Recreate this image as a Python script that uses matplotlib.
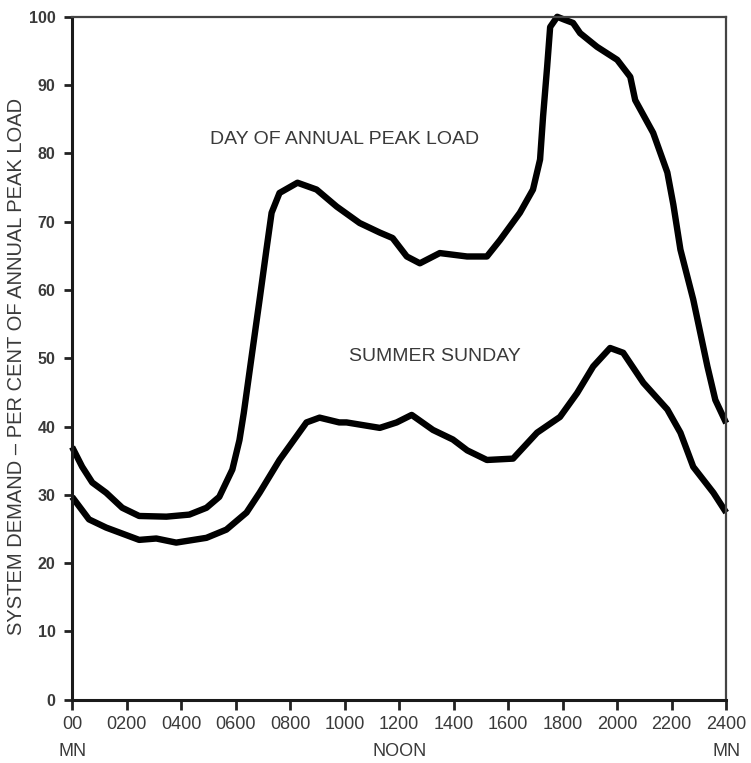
#!/usr/bin/env python3
"""
Daily system demand: day of annual peak load vs. summer Sunday.
"""

import matplotlib
matplotlib.use('Agg')
import matplotlib.pyplot as plt

plt.rcParams['font.family'] = ['Liberation Sans', 'DejaVu Sans']

# hour of day and demand (per cent of annual peak load)
peak_hours = [0.0, 0.37, 0.74, 1.25, 1.84, 2.46, 3.46, 4.3, 4.93, 5.4, 5.88,
              6.14, 6.3, 6.62, 6.88, 7.13, 7.32, 7.61, 8.27, 8.97, 9.71,
              10.55, 11.29, 11.76, 12.28, 12.76, 13.49, 14.49, 15.22, 15.7,
              16.43, 16.91, 17.17, 17.28, 17.43, 17.54, 17.8, 18.05, 18.38,
              18.64, 19.26, 20.0, 20.48, 20.66, 21.32, 21.84, 22.06, 22.32,
              22.79, 23.31, 23.6, 24.0]
peak_load = [37.0, 34.1, 31.8, 30.3, 28.1, 26.9, 26.8, 27.1, 28.1, 29.7, 33.7,
             38.0, 42.0, 51.2, 58.6, 65.9, 71.3, 74.2, 75.7, 74.7, 72.2,
             69.8, 68.4, 67.6, 64.9, 63.9, 65.4, 64.9, 64.9, 67.3,
             71.3, 74.7, 79.1, 85.4, 92.7, 98.5, 100.0, 99.6, 99.1,
             97.6, 95.6, 93.7, 91.2, 87.8, 83.0, 77.2, 72.5, 65.9,
             58.6, 48.8, 43.9, 40.5]

sunday_hours = [0.0, 0.62, 1.25, 2.46, 3.09, 3.82, 4.93, 5.66, 6.4, 6.88,
                7.61, 8.6, 9.08, 9.8, 10.07, 11.29, 11.91, 12.46, 13.24,
                13.97, 14.5, 15.22, 16.18, 17.06, 17.9, 18.53, 19.12, 19.74,
                20.22, 20.96, 21.84, 22.32, 22.79, 23.53, 24.0]
sunday_load = [29.7, 26.4, 25.2, 23.4, 23.6, 23.0, 23.7, 24.9, 27.4, 30.3,
               35.1, 40.6, 41.3, 40.6, 40.6, 39.8, 40.6, 41.7, 39.5,
               38.1, 36.5, 35.1, 35.3, 39.1, 41.4, 44.9, 48.8, 51.5,
               50.8, 46.4, 42.5, 39.1, 34.1, 30.3, 27.4]

x_ticks = list(range(0, 25, 2))
x_tick_labels = ['00\nMN', '0200', '0400', '0600', '0800', '1000', '1200\nNOON',
                 '1400', '1600', '1800', '2000', '2200', '2400\nMN']
y_ticks = list(range(0, 101, 10))

text_color = '#3a3a3a'

fig = plt.figure(figsize=(7.51, 7.63), dpi=100)
ax = fig.add_axes([0.096, 0.083, 0.871, 0.895])

line_kw = dict(color='black', linewidth=4.6, solid_joinstyle='round',
               solid_capstyle='butt', clip_on=False)
ax.plot(peak_hours, peak_load, **line_kw)
ax.plot(sunday_hours, sunday_load, **line_kw)

ax.set_xlim(0, 24)
ax.set_ylim(0, 100)

ax.set_xticks(x_ticks)
ax.set_xticklabels(x_tick_labels, fontsize=13, color=text_color,
                   linespacing=1.75)
ax.set_yticks(y_ticks)
ax.set_yticklabels([str(v) for v in y_ticks], fontsize=11.5,
                   color=text_color, fontweight='bold')

ax.tick_params(axis='x', direction='out', length=7, width=2, pad=5,
               colors='#222222', labelcolor=text_color)
ax.tick_params(axis='y', direction='out', length=6, width=2, pad=6,
               colors='#222222', labelcolor=text_color)

for side in ['left', 'bottom']:
    ax.spines[side].set_linewidth(2.2)
    ax.spines[side].set_color('#1a1a1a')
for side in ['top', 'right']:
    ax.spines[side].set_linewidth(1.6)
    ax.spines[side].set_color('#444444')

ax.set_ylabel('SYSTEM DEMAND \u2013 PER CENT OF ANNUAL PEAK LOAD',
              fontsize=14.5, color=text_color)
ax.yaxis.set_label_coords(-0.071, 0.488)

ax.text(10.0, 82.0, 'DAY OF ANNUAL PEAK LOAD', fontsize=14,
        color=text_color, ha='center', va='center')
ax.text(13.3, 50.2, 'SUMMER SUNDAY', fontsize=14,
        color=text_color, ha='center', va='center')

fig.savefig('out.png', dpi=100)
plt.close(fig)
